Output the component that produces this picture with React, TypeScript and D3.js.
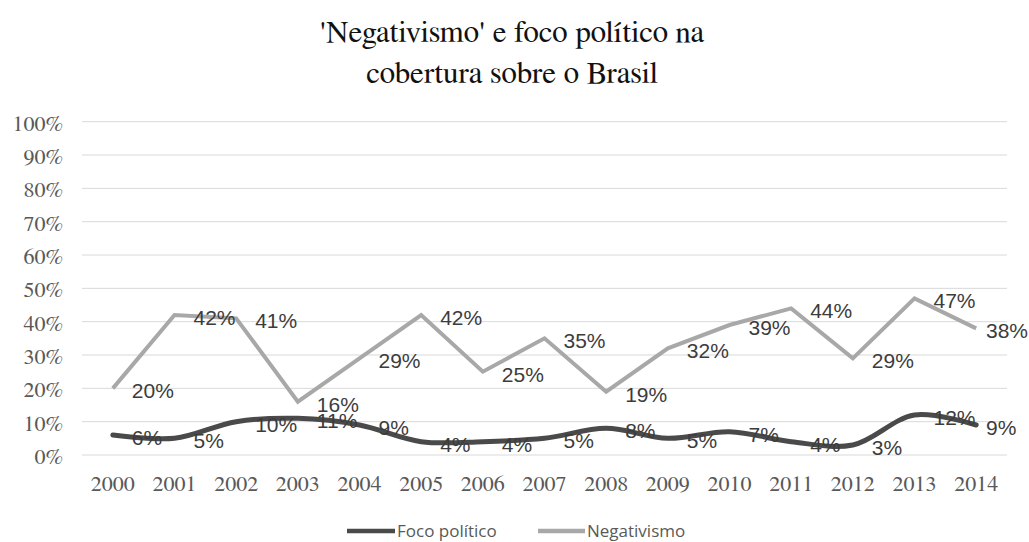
import React from "react";
import * as d3 from "d3";

const years = ["2000","2001","2002","2003","2004","2005","2006","2007","2008","2009","2010","2011","2012","2013","2014"];
const focoPolitico = [6, 5, 10, 11, 9, 4, 4, 5, 8, 5, 7, 4, 3, 12, 9];
const negativismo = [20, 42, 41, 16, 29, 42, 25, 35, 19, 32, 39, 44, 29, 47, 38];
const yTicks = [0, 10, 20, 30, 40, 50, 60, 70, 80, 90, 100];
const titleLines = ["'Negativismo' e foco político na", "cobertura sobre o Brasil"];
const seriesNames = ["Foco político", "Negativismo"];

const W = 1029, H = 542;
const left = 82, right = 1007, top = 121.7, bottom = 455;

export default function App() {
  const x = d3.scaleBand<string>().domain(years).range([left, right]);
  const y = d3.scaleLinear().domain([0, 100]).range([bottom, top]);
  const cx = (yr: string) => (x(yr) as number) + x.bandwidth() / 2;

  const focoLine = d3.line<number>()
    .x((_, i) => cx(years[i]))
    .y((d) => y(d))
    .curve(d3.curveCatmullRom.alpha(0.5));
  const negLine = d3.line<number>()
    .x((_, i) => cx(years[i]))
    .y((d) => y(d));

  const focoColor = "#4a4a4a";
  const negColor = "#a8a8a8";
  const labelColor = "#3c3c3c";
  const axisColor = "#595959";
  const labelW = 42;
  const lx = (i: number) => Math.min(cx(years[i]) + 19, W - labelW - 1);
  const serif = { fontFamily: `"FreeSerif"` };
  const sans = { fontFamily: `"Liberation Sans"` };
  const leg = { fontFamily: `"Open Sans"` };

  return (
    <div style={{ position: "absolute", left: 0, top: 0, width: W, height: H, background: "#fff" }}>
      <svg width={W} height={H} style={{ display: "block" }}>
        <text x={512} y={42} textAnchor="middle" fontSize={31} fill="#111" style={serif}>{titleLines[0]}</text>
        <text x={512} y={83} textAnchor="middle" fontSize={31} fill="#111" style={serif}>{titleLines[1]}</text>
        {yTicks.map((t) => (
          <line key={"g" + t} x1={left} x2={right} y1={y(t)} y2={y(t)} stroke="#d9d9d9" strokeWidth={1} />
        ))}
        {yTicks.map((t) => (
          <text key={"t" + t} x={63} y={y(t) + 9} textAnchor="end" fontSize={22} fill={axisColor} style={serif}>{t}%</text>
        ))}
        {years.map((yr) => (
          <text key={yr} x={cx(yr)} y={491} textAnchor="middle" fontSize={22} fill={axisColor} style={serif}>{yr}</text>
        ))}
        <path d={negLine(negativismo) || ""} fill="none" stroke={negColor} strokeWidth={4} strokeLinejoin="miter" />
        <path d={focoLine(focoPolitico) || ""} fill="none" stroke={focoColor} strokeWidth={5} strokeLinecap="round" strokeLinejoin="round" />
        {negativismo.map((v, i) => (
          <text key={"n" + i} x={lx(i)} y={y(v) + 10} fontSize={21} fill={labelColor} style={sans}>{v}%</text>
        ))}
        {focoPolitico.map((v, i) => (
          <text key={"f" + i} x={lx(i)} y={y(v) + 10} fontSize={21} fill={labelColor} style={sans}>{v}%</text>
        ))}
        <line x1={347} x2={395} y1={531} y2={531} stroke={focoColor} strokeWidth={4.5} />
        <text x={397} y={537} fontSize={17} fill={axisColor} style={leg}>{seriesNames[0]}</text>
        <line x1={538} x2={585} y1={531} y2={531} stroke={negColor} strokeWidth={4.5} />
        <text x={587} y={537} fontSize={17} fill={axisColor} style={leg}>{seriesNames[1]}</text>
      </svg>
    </div>
  );
}
